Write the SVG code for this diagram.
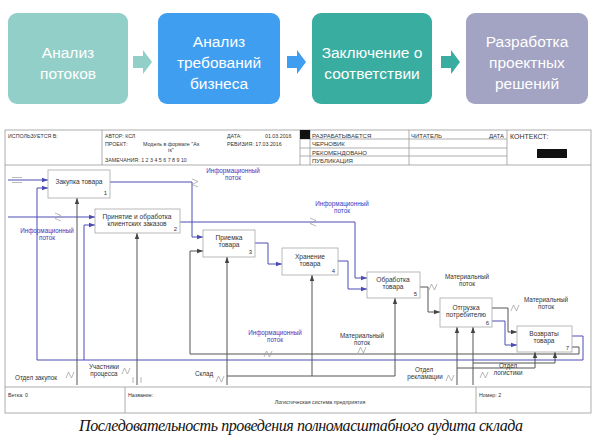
<svg xmlns="http://www.w3.org/2000/svg" xmlns:xlink="http://www.w3.org/1999/xlink" width="600" height="445" viewBox="0 0 600 445">
<style>
.top{font-family:"Liberation Sans","DejaVu Sans",sans-serif;font-size:15.5px;fill:#fff;text-anchor:middle}
.frm{fill:none;stroke:#9a9a9a;stroke-width:0.8}
.hd{font-family:"Liberation Sans","DejaVu Sans",sans-serif;font-size:5.3px;fill:#333}
.st{font-family:"Liberation Sans","DejaVu Sans",sans-serif;font-size:6px;fill:#333}
.box{fill:#fff;stroke:#a8a8a8;stroke-width:0.8}
.bt{font-family:"Liberation Sans","DejaVu Sans",sans-serif;font-size:6.6px;fill:#333;text-anchor:middle}
.num{font-family:"Liberation Sans","DejaVu Sans",sans-serif;font-size:6px;fill:#333;text-anchor:end}
.lb{font-family:"Liberation Sans","DejaVu Sans",sans-serif;font-size:6.3px;fill:#333;text-anchor:middle}
.lbb{font-family:"Liberation Sans","DejaVu Sans",sans-serif;font-size:6.3px;fill:#3a3ac0;text-anchor:middle}
.cb{fill:none;stroke:#4c4cb4;stroke-width:1}
.cg{fill:none;stroke:#555;stroke-width:1}
.sq{fill:none;stroke:#999;stroke-width:0.7}
.cap{font-family:"Liberation Serif","DejaVu Serif",serif;font-style:italic;font-size:16px;fill:#111;text-anchor:middle}
</style>
<defs>
<marker id="ab" markerWidth="6" markerHeight="6" refX="6" refY="3" orient="auto" markerUnits="userSpaceOnUse"><path d="M0,0.8 L6,3 L0,5.2 Z" fill="#4c4cb4"/></marker>
<marker id="ag" markerWidth="6" markerHeight="6" refX="6" refY="3" orient="auto" markerUnits="userSpaceOnUse"><path d="M0,0.8 L6,3 L0,5.2 Z" fill="#444"/></marker>
<path id="sqv" d="M-4,3 L-1.5,-3 L1.5,3 L4,-3"/>
<path id="sqh" d="M-3,-4 L3,-1.5 L-3,1.5 L3,4"/>
</defs>
<rect width="600" height="445" fill="#fff"/>

<g id="steps">
<g id="step1"><rect x="8" y="13" width="120" height="91" rx="9" fill="#93cfc9"/><text class="top" x="68" y="58">Анализ</text><text class="top" x="68" y="79">потоков</text></g>
<path d="M133,56 H143 V50 L152,62 L143,74 V68 H133 Z" fill="#93cfc9"/>
<g id="step2"><rect x="158" y="13" width="122" height="91" rx="9" fill="#3f9ef0"/><text class="top" x="219" y="47">Анализ</text><text class="top" x="219" y="68">требований</text><text class="top" x="219" y="89">бизнеса</text></g>
<path d="M287,56 H297 V50 L306,62 L297,74 V68 H287 Z" fill="#3f9ef0"/>
<g id="step3"><rect x="312" y="13" width="120" height="91" rx="9" fill="#3aada1"/><text class="top" x="372" y="58">Заключение о</text><text class="top" x="372" y="79">соответствии</text></g>
<path d="M441,56 H451 V50 L460,62 L451,74 V68 H441 Z" fill="#3aada1"/>
<g id="step4"><rect x="466" y="13" width="122" height="91" rx="9" fill="#a3a3c3"/><text class="top" x="527" y="47">Разработка</text><text class="top" x="527" y="68">проектных</text><text class="top" x="527" y="89">решений</text></g>
</g>

<g id="form">
<rect class="frm" x="5" y="130" width="586" height="283"/>
<path class="frm" d="M5,165 H591 M102,130 V165 M300,130 V165 M310,130 V165 M409,130 V165 M507,130 V165 M300,139 H507 M300,148 H507 M300,156 H507 M5,387 H591 M125,387 V413 M476,387 V413"/>
<rect x="300" y="130" width="10" height="9" fill="#111"/>
<rect x="537" y="149" width="30" height="9" fill="#111"/>
<text class="hd" x="8" y="138">ИСПОЛЬЗУЕТСЯ В:</text>
<text class="hd" x="105" y="138">АВТОР: КСЛ</text>
<text class="hd" x="227" y="138">ДАТА:</text>
<text class="hd" x="265" y="138">01.03.2016</text>
<text class="hd" x="105" y="146">ПРОЕКТ:</text>
<text class="hd" x="143" y="146">Модель в формате "As</text>
<text class="hd" x="168" y="152">is"</text>
<text class="hd" x="227" y="146">РЕВИЗИЯ: 17.03.2016</text>
<text class="hd" x="105" y="162">ЗАМЕЧАНИЯ: 1 2 3 4 5 6 7 8 9 10</text>
<text class="st" x="312" y="137.5">РАЗРАБАТЫВАЕТСЯ</text>
<text class="st" x="312" y="146">ЧЕРНОВИК</text>
<text class="st" x="312" y="154.5">РЕКОМЕНДОВАНО</text>
<text class="st" x="312" y="162.5">ПУБЛИКАЦИЯ</text>
<text class="st" x="411" y="137.5">ЧИТАТЕЛЬ</text>
<text class="st" x="489" y="137.5">ДАТА</text>
<text class="hd" x="510" y="139" style="font-size:7px">КОНТЕКСТ:</text>
<text class="hd" x="8" y="397">Ветка: 0</text>
<text class="hd" x="128" y="397">Название:</text>
<text class="hd" x="320" y="404" text-anchor="middle">Логистическая система предприятия</text>
<text class="hd" x="479" y="397">Номер: 2</text>
</g>

<g id="connectors">
<path class="cb" d="M8,180 H48" marker-end="url(#ab)"/>
<path class="sq" d="M12,177.5 H22 M12,182.5 H22"/>
<path class="cb" d="M8,217 H95" marker-end="url(#ab)"/>
<path class="cb" d="M110,182 H192 V237 H203" marker-end="url(#ab)"/>
<path class="cb" d="M180,222 H355 V278 H367" marker-end="url(#ab)"/>
<path class="cb" d="M255,243 H268 V264 H282" marker-end="url(#ab)"/>
<path class="cb" d="M338,261 H348 V289 H367" marker-end="url(#ab)"/>
<path class="cg" d="M420,287 H428 V312 H440" marker-end="url(#ag)"/>
<path class="cg" d="M492,308 H508 V332 H517" marker-end="url(#ag)"/>
<path class="cb" d="M492,321 H505 V345 H517" marker-end="url(#ab)"/>
<path class="cb" d="M572,336 H583 V360 H37 V188 H48" marker-end="url(#ab)"/>
<path class="cb" d="M84,360 V225 H95" marker-end="url(#ab)"/>
<path class="cg" d="M572,347 H579 V354 H190 V251 H203" marker-end="url(#ag)"/>
<path class="cg" d="M77,385 V198" marker-end="url(#ag)"/>
<path class="cg" d="M137,385 V233" marker-end="url(#ag)"/>
<path class="cg" d="M227,385 V257" marker-end="url(#ag)"/>
<path class="cg" d="M227,376 H395 V298" marker-end="url(#ag)"/>
<path class="cg" d="M312,376 V275" marker-end="url(#ag)"/>
<path class="cg" d="M457,385 V327" marker-end="url(#ag)"/>
<path class="cg" d="M457,368 H535 V352" marker-end="url(#ag)"/>
<path class="cg" d="M473,385 V327" marker-end="url(#ag)"/>
<path class="cg" d="M473,363 H555 V352" marker-end="url(#ag)"/>
<path class="sq" d="M133,377 V383 M141,377 V383"/>
<g class="sq">
<use xlink:href="#sqh" x="58" y="217"/>
<use xlink:href="#sqh" x="195" y="183"/>
<use xlink:href="#sqh" x="313" y="222"/>
<use xlink:href="#sqv" x="268" y="354"/>
<use xlink:href="#sqv" x="362" y="350"/>
<use xlink:href="#sqv" x="433" y="287"/>
<use xlink:href="#sqv" x="515" y="308"/>
<use xlink:href="#sqv" x="70" y="375"/>
<use xlink:href="#sqv" x="126" y="371"/>
<use xlink:href="#sqv" x="220" y="379"/>
<use xlink:href="#sqv" x="450" y="378"/>
<use xlink:href="#sqv" x="484" y="375"/>
</g>
<text class="lbb" x="47" y="233">Информационный</text><text class="lbb" x="47" y="240">поток</text>
<text class="lbb" x="233" y="173">Информационный</text><text class="lbb" x="233" y="180">поток</text>
<text class="lbb" x="342" y="206">Информационный</text><text class="lbb" x="342" y="213">поток</text>
<text class="lbb" x="275" y="335">Информационный</text><text class="lbb" x="275" y="342">поток</text>
<text class="lb" x="362" y="338">Материальный</text><text class="lb" x="362" y="345">поток</text>
<text class="lb" x="467" y="279">Материальный</text><text class="lb" x="467" y="286">поток</text>
<text class="lb" x="546" y="302">Материальный</text><text class="lb" x="546" y="309">поток</text>
<text class="lb" x="36" y="380">Отдел закупок</text>
<text class="lb" x="104" y="369">Участники</text><text class="lb" x="104" y="376">процесса</text>
<text class="lb" x="204" y="376">Склад</text>
<text class="lb" x="424" y="372">Отдел</text><text class="lb" x="425" y="379">рекламации</text>
<text class="lb" x="508" y="368">Отдел</text><text class="lb" x="508" y="375">логистики</text>
</g>

<g id="n1"><rect class="box" x="48" y="170" width="62" height="28"/><text class="bt" x="79" y="184">Закупка товара</text><text class="num" x="107" y="195">1</text></g>
<g id="n2"><rect class="box" x="95" y="209" width="85" height="24"/><text class="bt" x="137" y="219">Принятие и обработка</text><text class="bt" x="137" y="226">клиентских заказов</text><text class="num" x="177" y="231">2</text></g>
<g id="n3"><rect class="box" x="203" y="230" width="52" height="27"/><text class="bt" x="229" y="240">Приемка</text><text class="bt" x="229" y="247">товара</text><text class="num" x="252" y="254">3</text></g>
<g id="n4"><rect class="box" x="282" y="248" width="56" height="27"/><text class="bt" x="310" y="259">Хранение</text><text class="bt" x="310" y="266">товара</text><text class="num" x="335" y="273">4</text></g>
<g id="n5"><rect class="box" x="367" y="272" width="53" height="26"/><text class="bt" x="393" y="282">Обработка</text><text class="bt" x="393" y="289">товара</text><text class="num" x="417" y="296">5</text></g>
<g id="n6"><rect class="box" x="440" y="298" width="52" height="29"/><text class="bt" x="466" y="310">Отгрузка</text><text class="bt" x="466" y="317">потребителю</text><text class="num" x="489" y="325">6</text></g>
<g id="n7"><rect class="box" x="517" y="326" width="55" height="26"/><text class="bt" x="544" y="336">Возвраты</text><text class="bt" x="544" y="343">товара</text><text class="num" x="569" y="350">7</text></g>

<text class="cap" x="301" y="431" textLength="444">Последовательность проведения полномасштабного аудита склада</text>
</svg>
